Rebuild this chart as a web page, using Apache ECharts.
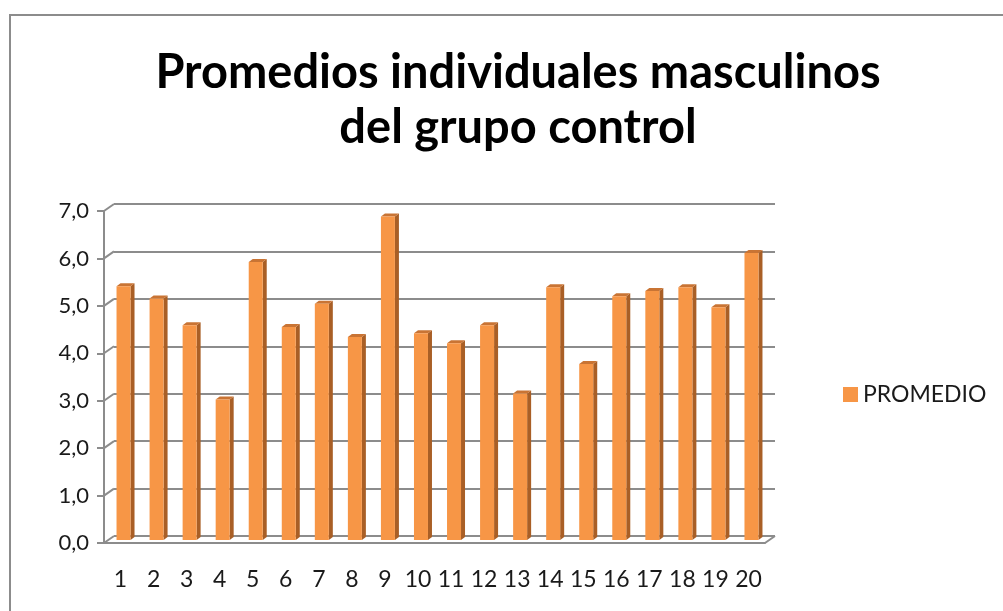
<!DOCTYPE html>
<html>

<head>
    <meta charset="utf-8">
    <title>Promedios individuales masculinos del grupo control</title>
    <script src="https://cdn.jsdelivr.net/npm/echarts@6/dist/echarts.min.js"></script>
    <style>
        html, body { margin: 0; padding: 0; background: #fff; }
        #chart { width: 1003px; height: 611px; }
    </style>
</head>

<body>
    <div id="chart"></div>
    <script>
    // datos
    var categorias = ['1', '2', '3', '4', '5', '6', '7', '8', '9', '10',
        '11', '12', '13', '14', '15', '16', '17', '18', '19', '20'];
    var promedio = [5.35, 5.09, 4.53, 2.96, 5.86, 4.49, 4.98, 4.28, 6.82, 4.36,
        4.15, 4.53, 3.09, 5.33, 3.71, 5.14, 5.25, 5.33, 4.91, 6.05];
    var ticksY = [0, 1, 2, 3, 4, 5, 6, 7];

    var gris = '#8c8c8c';
    var naranja = '#f79646';
    var fuente = 'Lato, "Open Sans", sans-serif';
    // desplazamiento de la pared del fondo
    var fondoX = 10, fondoY = -7;

    var myChart = echarts.init(document.getElementById('chart'));

    var option = {
        animation: false,
        backgroundColor: '#fff',
        graphic: [{
            type: 'rect',
            shape: { x: 10, y: 15, width: 1000, height: 620 },
            style: { fill: 'none', stroke: gris, lineWidth: 2 },
            silent: true
        }],
        title: {
            text: 'Promedios individuales masculinos\ndel grupo control',
            left: 513,
            top: 40,
            textAlign: 'center',
            textStyle: {
                fontFamily: fuente,
                fontWeight: 'bold',
                fontSize: 47,
                lineHeight: 55,
                color: '#000'
            }
        },
        legend: {
            left: 838,
            top: 378,
            itemWidth: 15,
            itemHeight: 15,
            itemGap: 8,
            icon: 'rect',
            data: ['PROMEDIO'],
            textStyle: { fontFamily: fuente, fontSize: 23, color: '#1a1a1a', padding: [2, 0, 0, 0] }
        },
        grid: [{
            // plano frontal
            left: 104, right: 238, top: 211, bottom: 68
        }, {
            // pared del fondo
            left: 104 + fondoX, right: 238 - fondoX, top: 211 + fondoY, bottom: 68 - fondoY
        }],
        xAxis: [{
            gridIndex: 0,
            type: 'category',
            data: categorias,
            boundaryGap: true,
            axisLine: { lineStyle: { color: gris, width: 2 } },
            axisTick: { length: 9, interval: 0, lineStyle: { color: gris, width: 2 } },
            axisLabel: { interval: 0, hideOverlap: false, margin: 25, fontFamily: fuente, fontSize: 23, color: '#1a1a1a' }
        }, {
            gridIndex: 1,
            type: 'category',
            data: categorias,
            show: false
        }],
        yAxis: [{
            gridIndex: 0,
            type: 'value',
            min: 0,
            max: 7,
            interval: 1,
            axisLine: { show: true, lineStyle: { color: gris, width: 2 } },
            axisTick: { show: true, length: 7, lineStyle: { color: gris, width: 2 } },
            splitLine: { show: false },
            axisLabel: {
                margin: 15,
                fontFamily: fuente,
                fontSize: 22,
                color: '#1a1a1a',
                formatter: function(v) { return v.toFixed(1).replace('.', ','); }
            }
        }, {
            gridIndex: 1,
            type: 'value',
            min: 0,
            max: 7,
            interval: 1,
            axisLine: { show: false },
            axisTick: { show: false },
            axisLabel: { show: false },
            splitLine: { show: true, lineStyle: { color: gris, width: 2 } }
        }],
        series: [{
            // diagonales entre el eje frontal y la pared del fondo
            type: 'custom',
            xAxisIndex: 0,
            yAxisIndex: 0,
            silent: true,
            data: ticksY,
            renderItem: function(params, api) {
                var cs = params.coordSys;
                var p = api.coord([0, api.value(0)]);
                var lineas = [{
                    type: 'line',
                    shape: { x1: cs.x, y1: p[1], x2: cs.x + fondoX, y2: p[1] + fondoY },
                    style: { stroke: gris, lineWidth: 2 }
                }];
                if (api.value(0) === 0) {
                    lineas.push({
                        type: 'line',
                        shape: { x1: cs.x + cs.width, y1: p[1], x2: cs.x + cs.width + fondoX, y2: p[1] + fondoY },
                        style: { stroke: gris, lineWidth: 2 }
                    });
                }
                return { type: 'group', children: lineas };
            },
            encode: { y: 0 },
            z: 1
        }, {
            name: 'PROMEDIO',
            type: 'custom',
            xAxisIndex: 0,
            yAxisIndex: 0,
            itemStyle: { color: naranja },
            data: promedio.map(function(v, i) { return [i, v]; }),
            encode: { x: 0, y: 1 },
            renderItem: function(params, api) {
                var arriba = api.coord([api.value(0), api.value(1)]);
                var abajo = api.coord([api.value(0), 0]);
                var ancho = 14, fx = 3, fy = -3, px = 4, py = -3;
                var x0 = arriba[0] - ancho / 2 + fx;
                var x1 = x0 + ancho;
                var yt = arriba[1] + fy;
                var yb = abajo[1] + fy;
                return {
                    type: 'group',
                    children: [{
                        type: 'polygon',
                        shape: { points: [[x1, yt], [x1 + px, yt + py], [x1 + px, yb + py], [x1, yb]] },
                        style: { fill: '#a95f26' }
                    }, {
                        type: 'polygon',
                        shape: { points: [[x0, yt], [x0 + px, yt + py], [x1 + px, yt + py], [x1, yt]] },
                        style: { fill: '#c97434' }
                    }, {
                        type: 'rect',
                        shape: { x: x0, y: yt, width: ancho, height: yb - yt },
                        style: { fill: naranja }
                    }]
                };
            },
            z: 3
        }]
    };

    myChart.setOption(option);
    addEventListener('resize', myChart.resize);
    </script>
</body>

</html>
